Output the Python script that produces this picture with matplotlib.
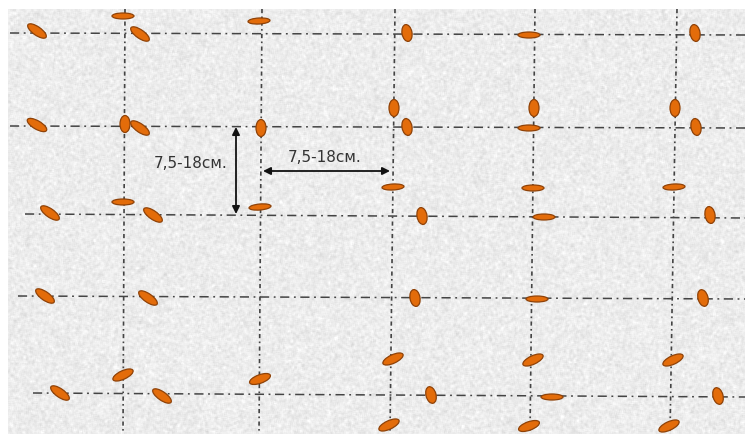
import numpy as np
import matplotlib
matplotlib.use('Agg')
import matplotlib.pyplot as plt
from matplotlib.patches import Ellipse

# grid rows: y at left end, y at right end, x where the line starts
row_y_left = [33, 126, 214, 296, 393]
row_y_right = [35, 128, 218, 299, 397]
row_x_start = [10, 10, 25, 18, 33]

# grid columns: x at top, x at bottom
col_x_top = [125, 262, 395, 535, 677]
col_x_bottom = [123, 259, 390, 530, 670]

# seeds: centre and tilt (degrees, clockwise on screen)
seed_x = [37, 123, 140, 259, 407, 529, 695,
          37, 125, 140, 261, 394, 407, 534, 529, 675, 696,
          123, 260, 393, 533, 674,
          50, 153, 422, 544, 710,
          45, 148, 415, 537, 703,
          123, 260, 393, 533, 673,
          60, 162, 431, 552, 718,
          389, 529, 669]
seed_y = [31, 16, 34, 21, 33, 35, 33,
          125, 124, 128, 128, 108, 127, 108, 128, 108, 127,
          202, 207, 187, 188, 187,
          213, 215, 216, 217, 215,
          296, 298, 298, 299, 298,
          375, 379, 359, 360, 360,
          393, 396, 395, 397, 396,
          425, 426, 426]
seed_angle = [35, 0, 35, -3, 80, 0, 80,
              30, 90, 35, 90, 90, 80, 90, 0, 90, 80,
              0, -5, -3, 0, -3,
              35, 35, 80, 0, 80,
              35, 35, 80, 0, 75,
              -25, -20, -25, -25, -25,
              35, 35, 75, 0, 75,
              -25, -20, -25]

label = '7,5-18см.'

W, H = 745, 434
fig = plt.figure(figsize=(W / 100, H / 100), dpi=100)
ax = fig.add_axes([0, 0, 1, 1])

# speckled paper texture (decoration only)
rng = np.random.default_rng(3)
noise = rng.normal(0, 1, (H, W))
k = np.ones(3) / 3
noise = np.apply_along_axis(lambda r: np.convolve(r, k, mode='same'), 1, noise)
noise = np.apply_along_axis(lambda c: np.convolve(c, k, mode='same'), 0, noise)
tex = np.clip(0.925 + 0.06 * noise, 0.8, 1.0)
ax.imshow(tex, cmap='gray', vmin=0, vmax=1, extent=[8, W, H, 9],
          interpolation='nearest', zorder=0)
ax.set_xlim(0, W)
ax.set_ylim(H, 0)
ax.axis('off')

for yl, yr, xs in zip(row_y_left, row_y_right, row_x_start):
    ax.plot([xs, W], [yl, yr], color='#444444', lw=1.1,
            dashes=(6, 3, 1.2, 3), zorder=1)
for xt, xb in zip(col_x_top, col_x_bottom):
    ax.plot([xt, xb], [9, H], color='#444444', lw=1.2,
            dashes=(2.5, 2, 1, 2), zorder=1)

for x, y, a in zip(seed_x, seed_y, seed_angle):
    if abs(a) > 60:
        w, h = 17, 10
    elif abs(a) < 10:
        w, h = 22, 6
    else:
        w, h = 22, 8.5
    ax.add_patch(Ellipse((x, y), w, h, angle=a, facecolor='#e36c0a',
                         edgecolor='#8f4208', lw=0.9, zorder=3))

arrow = dict(arrowstyle='<|-|>', color='#111111', lw=1.3, mutation_scale=11,
             shrinkA=0, shrinkB=0)
ax.annotate('', xy=(236, 127), xytext=(236, 214), arrowprops=arrow, zorder=4)
ax.annotate('', xy=(263, 171), xytext=(390, 171), arrowprops=arrow, zorder=4)

ax.text(191, 163, label, fontsize=11, color='#333333', ha='center', va='center', zorder=5)
ax.text(325, 158, label, fontsize=11, color='#333333', ha='center', va='center', zorder=5)

fig.savefig('out.png', dpi=100, facecolor='white')
